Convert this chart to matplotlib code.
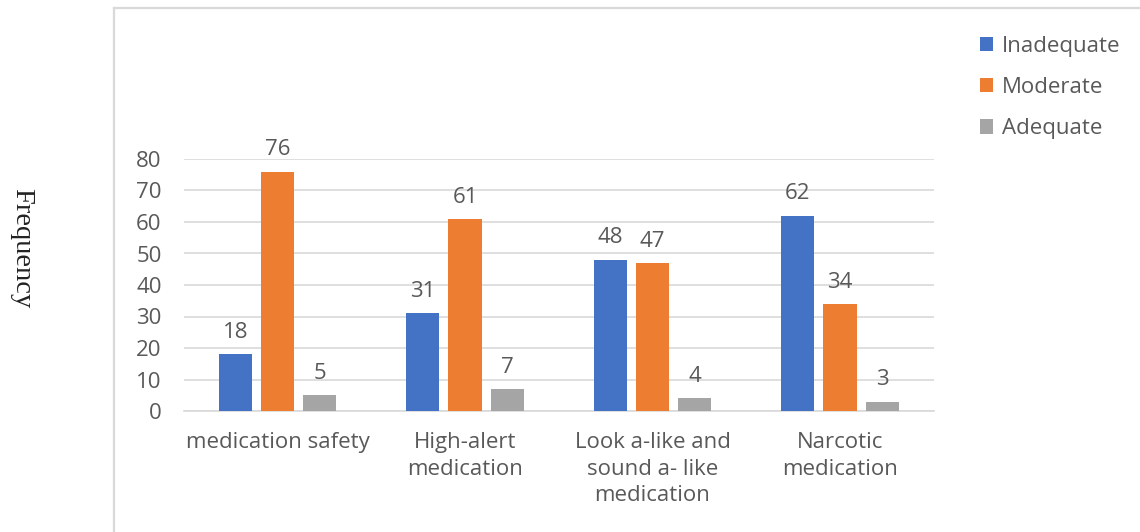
import matplotlib
matplotlib.use("Agg")
import matplotlib.pyplot as plt
import numpy as np
from matplotlib.lines import Line2D

categories = ["medication safety", "High-alert\nmedication",
              "Look a-like and\nsound a- like\nmedication", "Narcotic\nmedication"]
series_names = ["Inadequate", "Moderate", "Adequate"]
inadequate = [18, 31, 48, 62]
moderate = [76, 61, 47, 34]
adequate = [5, 7, 4, 3]
y_ticks = [0, 10, 20, 30, 40, 50, 60, 70, 80]

colors = ["#4472C4", "#ED7D31", "#A5A5A5"]
text_color = "#595959"
grid_color = "#D9D9D9"
fs = 16

plt.rcParams["font.family"] = ["Open Sans", "DejaVu Sans"]

W, H = 1140, 532
fig = plt.figure(figsize=(W / 100, H / 100), dpi=100)

# chart-area frame: top and left edges only
fig.add_artist(Line2D([114 / W, 1.0], [1 - 8 / H, 1 - 8 / H], color=grid_color, lw=1.6))
fig.add_artist(Line2D([114 / W, 114 / W], [0.0, 1 - 8 / H], color=grid_color, lw=1.6))

ax = fig.add_axes([183.75 / W, 121 / H, 750 / W, 252 / H])

x = np.arange(len(categories))
width = 0.177
step = 0.225
series = [inadequate, moderate, adequate]
bars = []
for i, (vals, name, col) in enumerate(zip(series, series_names, colors)):
    b = ax.bar(x + (i - 1) * step, vals, width=width, color=col, label=name, zorder=3)
    bars.append(b)
    for rect, v in zip(b, vals):
        ax.annotate(str(v), (rect.get_x() + rect.get_width() / 2, v),
                    xytext=(0, 15.7), textcoords="offset points",
                    ha="center", va="center", fontsize=fs, color=text_color)

ax.set_xlim(-0.5, len(categories) - 0.5)
ax.set_ylim(0, 80)
ax.set_yticks(y_ticks)
ax.set_xticks(x)
ax.set_xticklabels(categories, linespacing=1.36)
ax.tick_params(axis="both", length=0, labelsize=fs, labelcolor=text_color)
ax.tick_params(axis="y", pad=16)
ax.tick_params(axis="x", pad=15)
ax.grid(axis="y", color=grid_color, lw=1.2, zorder=0)
for s in ["top", "right", "left"]:
    ax.spines[s].set_visible(False)
ax.spines["bottom"].set_color(grid_color)
ax.spines["bottom"].set_linewidth(1.2)

fig.text(22 / W, 1 - 248 / H, "Frequency", rotation=270, ha="center", va="center",
         fontsize=20.5, family="Liberation Serif", color="#222222")

fig.legend(handles=bars, labels=series_names, loc="upper left",
           bbox_to_anchor=(971 / W, 1 - 27 / H), frameon=False, fontsize=fs,
           labelcolor=text_color, handlelength=0.6, handleheight=0.6,
           handletextpad=0.4, labelspacing=0.91, borderaxespad=0)

fig.savefig("out.png", dpi=100, facecolor="white")
